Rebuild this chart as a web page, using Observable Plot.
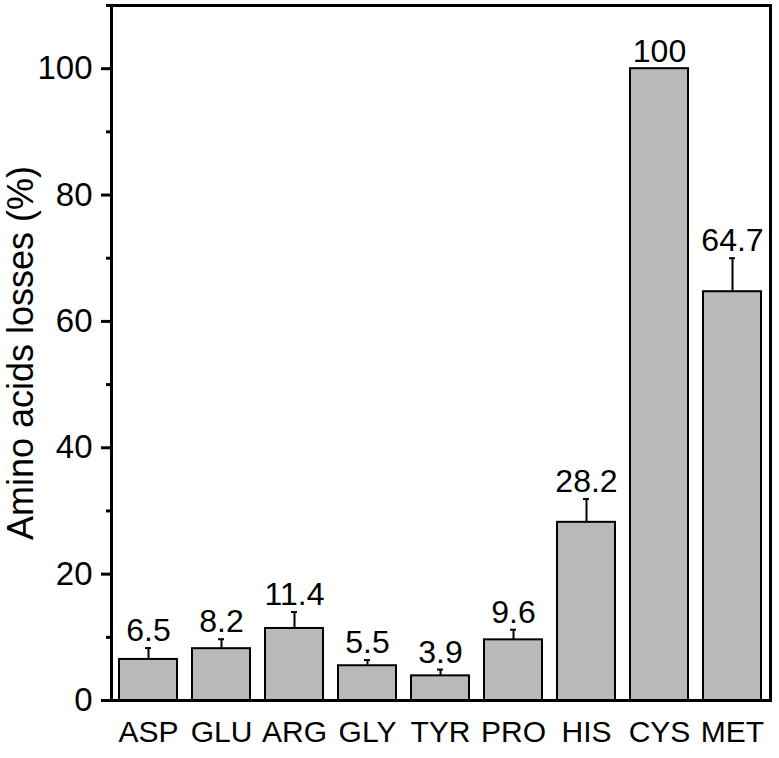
<!DOCTYPE html>
<html>
<head>
<meta charset="utf-8">
<script src="https://cdn.jsdelivr.net/npm/d3@7"></script>
<script src="https://cdn.jsdelivr.net/npm/@observablehq/plot@0.6"></script>
<style>
  html, body { margin: 0; padding: 0; background: #ffffff; }
</style>
</head>
<body>
<div id="chart"></div>
<script>
const categories = ["ASP", "GLU", "ARG", "GLY", "TYR", "PRO", "HIS", "CYS", "MET"];
const losses = [6.5, 8.2, 11.4, 5.5, 3.9, 9.6, 28.2, 100, 64.7];
const errors = [1.8, 1.5, 2.6, 0.9, 1.0, 1.6, 3.7, 0, 5.3];
const majorTicks = [0, 20, 40, 60, 80, 100];
const minorTicks = [10, 30, 50, 70, 90, 110];

const data = categories.map((c, i) => ({
  name: c,
  value: losses[i],
  err: errors[i],
  top: losses[i] + errors[i],
  label: String(losses[i])
}));
const withErr = data.filter(d => d.err > 0);

const chart = Plot.plot({
  width: 779,
  height: 758,
  marginLeft: 111,
  marginRight: 9,
  marginTop: 5,
  marginBottom: 58,
  style: { fontFamily: "'Liberation Sans', Arial, sans-serif", background: "#ffffff", color: "#000000" },
  x: { domain: categories, paddingInner: 0.2, paddingOuter: 0.1, label: null },
  y: { domain: [0, 110], label: null },
  marks: [
    Plot.barY(data, { x: "name", y: "value", fill: "#b9b9b9", stroke: "#000000", strokeWidth: 2 }),
    Plot.ruleX(withErr, { x: "name", y1: "value", y2: "top", stroke: "#000000", strokeWidth: 2 }),
    Plot.tickY(withErr, { x: "name", y: "top", stroke: "#000000", strokeWidth: 2, insetLeft: 26, insetRight: 26 }),
    Plot.text(data, { x: "name", y: "top", text: "label", dy: -7, lineAnchor: "bottom", fontSize: 32, fill: "#000000" }),
    Plot.axisY({ ticks: majorTicks, tickSize: 10, tickPadding: 9, strokeWidth: 3, fontSize: 33, label: "Amino acids losses (%)", labelAnchor: "center", labelArrow: "none", labelOffset: 104 }),
    Plot.axisY({ ticks: minorTicks, tickSize: 5, strokeWidth: 3, tickFormat: () => "", label: null }),
    Plot.axisX({ tickSize: 0, tickPadding: 20, fontSize: 30, label: null }),
    Plot.frame({ stroke: "#000000", strokeWidth: 3 })
  ]
});
chart.querySelectorAll("g[aria-label='y-axis label'] text, g[aria-label='y-axis label']").forEach(el => el.setAttribute("font-size", "36"));
document.getElementById("chart").appendChild(chart);
</script>
</body>
</html>
